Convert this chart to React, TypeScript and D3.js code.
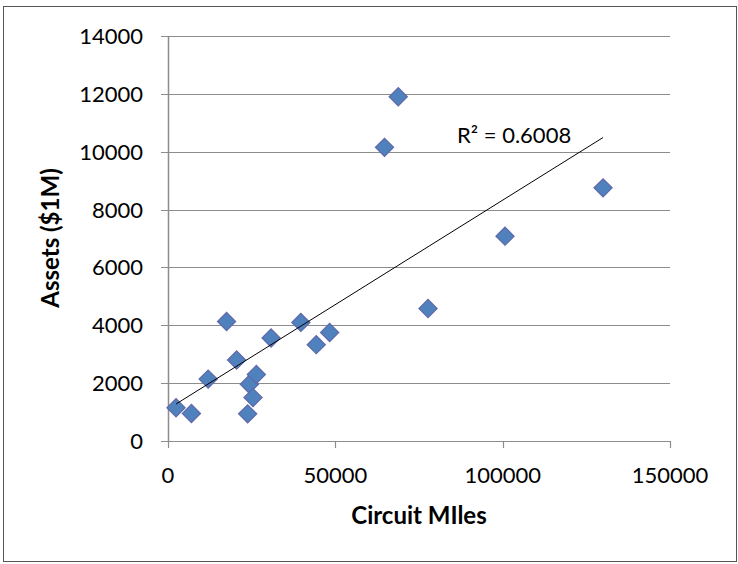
import React, { useEffect, useRef } from 'react';
import * as d3 from 'd3';

// Circuit miles vs assets
const circuitMiles = [
  2400, 7000, 12000, 17500, 20500, 23800, 24300, 25400, 26400, 30800,
  39700, 44300, 48300, 64700, 68800, 77700, 100700, 130000,
];
const assets = [
  1150, 950, 2140, 4130, 2800, 940, 1960, 1500, 2300, 3560,
  4100, 3330, 3750, 10150, 11900, 4580, 7080, 8750,
];
const xTicks = [0, 50000, 100000, 150000];
const yTicks = [0, 2000, 4000, 6000, 8000, 10000, 12000, 14000];
const rSquaredLabel = 'R² = 0.6008';

const width = 738;
const height = 564;
const margin = { top: 36, right: 68, bottom: 123, left: 168 };

const App: React.FC = () => {
  const svgRef = useRef<SVGSVGElement | null>(null);

  useEffect(() => {
    const svg = d3.select(svgRef.current);
    svg.selectAll('*').remove();

    const font = 'Lato, "Open Sans", sans-serif';
    const x = d3.scaleLinear().domain([0, 150000]).range([margin.left, width - margin.right]);
    const y = d3.scaleLinear().domain([0, 14000]).range([height - margin.bottom, margin.top]);

    // chart border
    svg
      .append('rect')
      .attr('x', 3.5)
      .attr('y', 6.5)
      .attr('width', width - 5)
      .attr('height', height - 9)
      .attr('fill', 'white')
      .attr('stroke', '#555')
      .attr('stroke-width', 1);

    // horizontal gridlines
    svg
      .append('g')
      .selectAll('line')
      .data(yTicks)
      .join('line')
      .attr('x1', margin.left - 7)
      .attr('x2', width - margin.right)
      .attr('y1', (d) => Math.round(y(d)) + 0.5)
      .attr('y2', (d) => Math.round(y(d)) + 0.5)
      .attr('stroke', '#8c8c8c')
      .attr('stroke-width', 1.2);

    // y axis line
    svg
      .append('line')
      .attr('x1', margin.left + 0.5)
      .attr('x2', margin.left + 0.5)
      .attr('y1', y(14000))
      .attr('y2', y(0))
      .attr('stroke', '#8c8c8c')
      .attr('stroke-width', 1.5);

    // x tick marks
    svg
      .append('g')
      .selectAll('line')
      .data(xTicks)
      .join('line')
      .attr('x1', (d) => Math.round(x(d)) + 0.5)
      .attr('x2', (d) => Math.round(x(d)) + 0.5)
      .attr('y1', y(0))
      .attr('y2', y(0) + 7)
      .attr('stroke', '#8c8c8c')
      .attr('stroke-width', 1.2);

    // tick labels
    svg
      .append('g')
      .selectAll('text')
      .data(yTicks)
      .join('text')
      .attr('x', margin.left - 25)
      .attr('y', (d) => y(d) + 8)
      .attr('text-anchor', 'end')
      .style('font', `22px ${font}`)
      .attr('fill', '#000')
      .text((d) => String(d));

    svg
      .append('g')
      .selectAll('text')
      .data(xTicks)
      .join('text')
      .attr('x', (d) => x(d))
      .attr('y', y(0) + 42)
      .attr('text-anchor', 'middle')
      .style('font', `22px ${font}`)
      .attr('fill', '#000')
      .text((d) => String(d));

    // axis titles
    svg
      .append('text')
      .attr('x', 419)
      .attr('y', 524)
      .attr('text-anchor', 'middle')
      .style('font', `bold 24px ${font}`)
      .text('Circuit MIles');

    svg
      .append('text')
      .attr('transform', `translate(59,238) rotate(-90)`)
      .attr('text-anchor', 'middle')
      .style('font', `bold 24px ${font}`)
      .text('Assets ($1M)');

    // markers
    const points = circuitMiles.map((cx, i) => ({ cx, cy: assets[i] }));
    const diamond = d3.symbol().type(d3.symbolSquare).size(165);
    svg
      .append('g')
      .selectAll('path')
      .data(points)
      .join('path')
      .attr('d', diamond)
      .attr('transform', (d) => `translate(${x(d.cx)},${y(d.cy)}) rotate(45)`)
      .attr('fill', '#4f81bd')
      .attr('stroke', '#6068aa')
      .attr('stroke-width', 1.2);

    // linear trendline (least squares)
    const mx = d3.mean(circuitMiles) || 0;
    const my = d3.mean(assets) || 0;
    const sxy = d3.sum(circuitMiles, (v, i) => (v - mx) * (assets[i] - my));
    const sxx = d3.sum(circuitMiles, (v) => (v - mx) * (v - mx));
    const slope = sxy / sxx;
    const intercept = my - slope * mx;
    const [x0, x1] = d3.extent(circuitMiles) as [number, number];
    const line = d3
      .line<number>()
      .x((d) => x(d))
      .y((d) => y(intercept + slope * d));
    svg
      .append('path')
      .attr('d', line([x0, x1]))
      .attr('fill', 'none')
      .attr('stroke', '#000')
      .attr('stroke-width', 1);

    svg
      .append('text')
      .attr('x', 457)
      .attr('y', 143)
      .style('font', `22px ${font}`)
      .text(rSquaredLabel);
  }, []);

  return (
    <svg
      ref={svgRef}
      width={width}
      height={height}
      style={{ position: 'absolute', left: 0, top: 0, background: 'white' }}
    />
  );
};

export default App;
